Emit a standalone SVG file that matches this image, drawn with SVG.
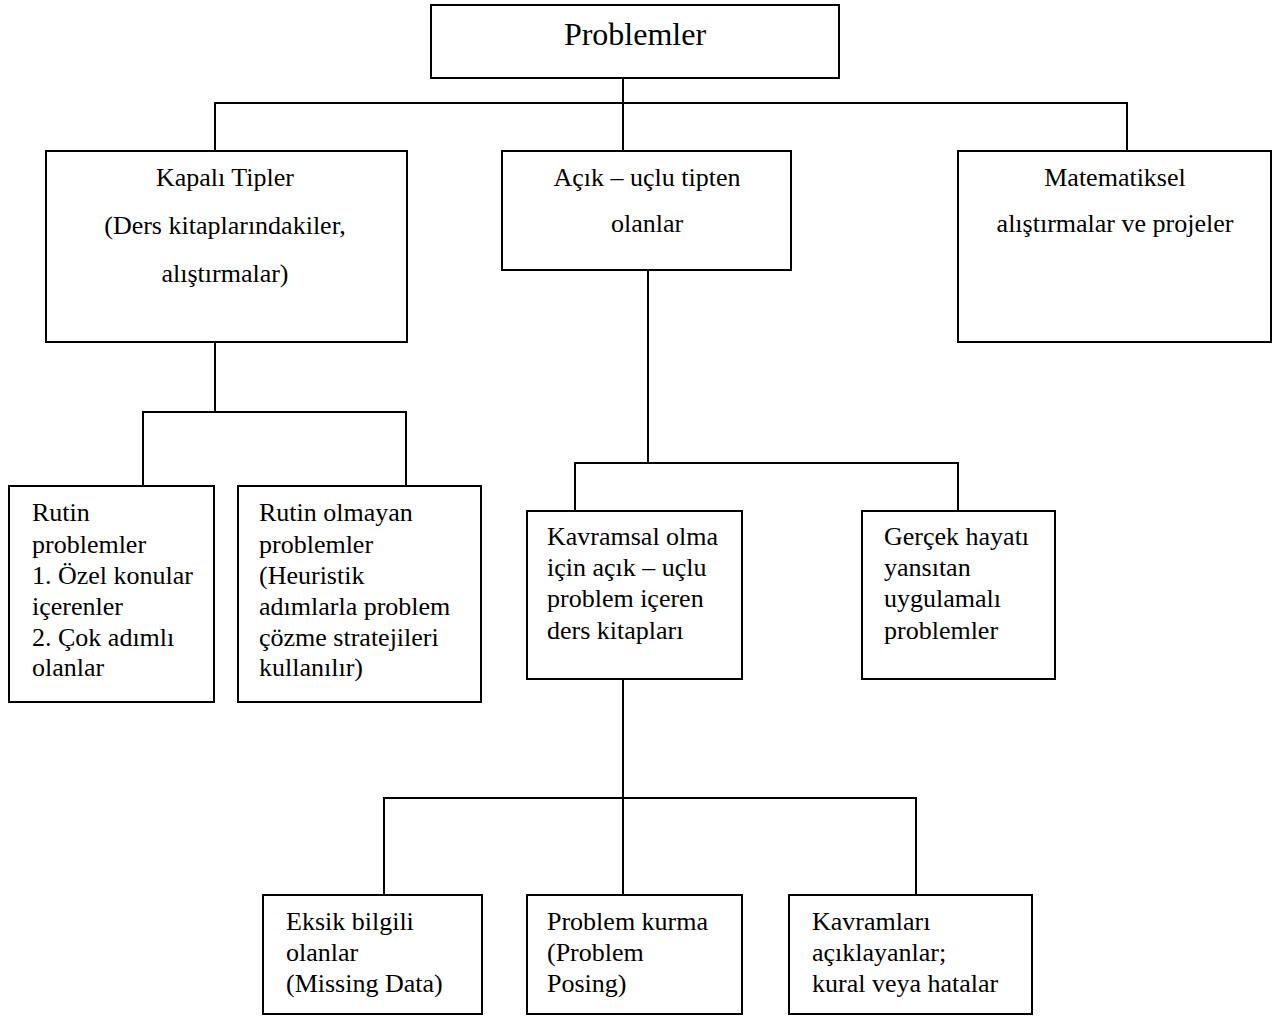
<svg xmlns="http://www.w3.org/2000/svg" width="1277" height="1016" viewBox="0 0 1277 1016">
<style>
.box{fill:#fff;stroke:#000;stroke-width:2}
.ln{fill:none;stroke:#000;stroke-width:2}
text{font-family:"Liberation Serif","Times New Roman",serif;font-size:26px;fill:#000}
.c{text-anchor:middle}
.big{font-size:32px}
</style>
<rect width="1277" height="1016" fill="#fff"/>
<g id="connectors">
<path class="ln" d="M623,78V103M215,151V103H1127V151M623,103V151"/>
<path class="ln" d="M215,342V412M143,486V412H406V486"/>
<path class="ln" d="M648,270V463M575,511V463H958V511"/>
<path class="ln" d="M623,679V895M384,895V798H916V895"/>
</g>
<g id="n-problemler"><rect class="box" x="431" y="5" width="408" height="73"/><text class="c big" x="635" y="45">Problemler</text></g>
<g id="n-kapali"><rect class="box" x="46" y="151" width="361" height="191"/>
<text class="c" x="225" y="186">Kapalı Tipler</text>
<text class="c" x="225" y="234">(Ders kitaplarındakiler,</text>
<text class="c" x="225" y="282">alıştırmalar)</text></g>
<g id="n-acik"><rect class="box" x="502" y="151" width="289" height="119"/>
<text class="c" x="647" y="186">Açık – uçlu tipten</text>
<text class="c" x="647" y="232">olanlar</text></g>
<g id="n-matematiksel"><rect class="box" x="958" y="151" width="313" height="191"/>
<text class="c" x="1115" y="186">Matematiksel</text>
<text class="c" x="1115" y="232">alıştırmalar ve projeler</text></g>
<g id="n-rutin"><rect class="box" x="9" y="486" width="205" height="216"/>
<text x="32" y="521">Rutin</text><text x="32" y="553">problemler</text><text x="32" y="584">1. Özel konular</text><text x="32" y="615">içerenler</text><text x="32" y="646">2. Çok adımlı</text><text x="32" y="676">olanlar</text></g>
<g id="n-rutin-olmayan"><rect class="box" x="238" y="486" width="243" height="216"/>
<text x="259" y="521">Rutin olmayan</text><text x="259" y="553">problemler</text><text x="259" y="584">(Heuristik</text><text x="259" y="615">adımlarla problem</text><text x="259" y="646">çözme stratejileri</text><text x="259" y="676">kullanılır)</text></g>
<g id="n-kavramsal"><rect class="box" x="527" y="511" width="215" height="168"/>
<text x="547" y="545">Kavramsal olma</text><text x="547" y="576">için açık – uçlu</text><text x="547" y="607">problem içeren</text><text x="547" y="639">ders kitapları</text></g>
<g id="n-gercek"><rect class="box" x="862" y="511" width="193" height="168"/>
<text x="884" y="545">Gerçek hayatı</text><text x="884" y="576">yansıtan</text><text x="884" y="607">uygulamalı</text><text x="884" y="639">problemler</text></g>
<g id="n-eksik"><rect class="box" x="263" y="895" width="219" height="119"/>
<text x="286" y="930">Eksik bilgili</text><text x="286" y="961">olanlar</text><text x="286" y="992">(Missing Data)</text></g>
<g id="n-kurma"><rect class="box" x="527" y="895" width="215" height="119"/>
<text x="547" y="930">Problem kurma</text><text x="547" y="961">(Problem</text><text x="547" y="992">Posing)</text></g>
<g id="n-kavramlari"><rect class="box" x="789" y="895" width="243" height="119"/>
<text x="812" y="930">Kavramları</text><text x="812" y="961">açıklayanlar;</text><text x="812" y="992">kural veya hatalar</text></g>
</svg>
